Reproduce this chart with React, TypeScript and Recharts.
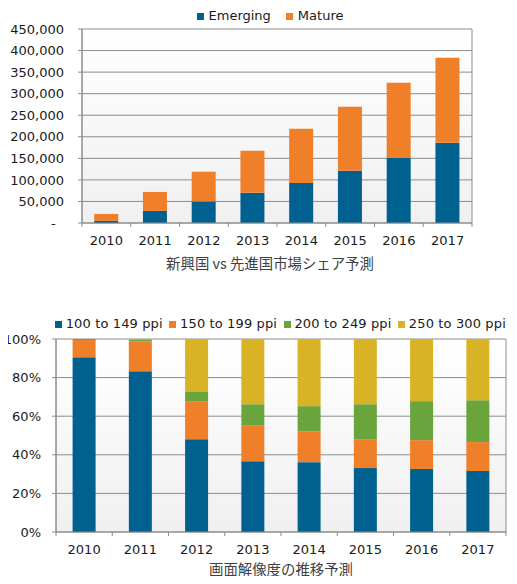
import { BarChart, Bar, XAxis, YAxis, CartesianGrid } from "recharts";

const years = ["2010", "2011", "2012", "2013", "2014", "2015", "2016", "2017"];

// 新興国 vs 先進国
const marketNames = ["Emerging", "Mature"];
const emerging = [5000, 28000, 50000, 70000, 93000, 121000, 151000, 186000];
const mature = [16000, 44000, 69000, 97500, 125500, 148500, 174500, 197500];
const marketTicks = [0, 50000, 100000, 150000, 200000, 250000, 300000, 350000, 400000, 450000];

// 画面解像度 (%)
const ppiNames = ["100 to 149 ppi", "150 to 199 ppi", "200 to 249 ppi", "250 to 300 ppi"];
const ppi100 = [90.5, 83.3, 48.1, 36.7, 36.2, 33.1, 32.6, 31.6];
const ppi150 = [9.0, 15.5, 19.7, 18.6, 16.0, 15.0, 15.0, 15.0];
const ppi200 = [0.5, 0.9, 5.1, 10.9, 13.0, 18.1, 20.2, 21.7];
const ppi250 = [0, 0.3, 27.1, 33.8, 34.8, 33.8, 32.2, 31.7];
const pctTicks = [0, 0.2, 0.4, 0.6, 0.8, 1];

const BLUE = "#00608f";
const ORANGE = "#f07f2a";
const GREEN = "#6aa43d";
const YELLOW = "#d8b325";
const GRID = "#8c8c8c";
const TEXT = "#1a1a1a";

const marketData = years.map((y, i) => ({ year: y, Emerging: emerging[i], Mature: mature[i] }));
const ppiData = years.map((y, i) => ({
  year: y,
  [ppiNames[0]]: ppi100[i],
  [ppiNames[1]]: ppi150[i],
  [ppiNames[2]]: ppi200[i],
  [ppiNames[3]]: ppi250[i],
}));

// x tick with Excel style marks between the categories
function EdgeTick(props: any) {
  const { x, y, payload, index, visibleTicksCount, half } = props;
  const off = payload?.offset ?? half;
  const ay = y - 13;
  return (
    <g>
      <line x1={x - off} x2={x - off} y1={ay} y2={ay + 4} stroke={GRID} />
      {index === visibleTicksCount - 1 && <line x1={x + off} x2={x + off} y1={ay} y2={ay + 4} stroke={GRID} />}
      <text x={x} y={y} dy="0.71em" textAnchor="middle" fill={TEXT} fontSize={13}>
        {payload.value}
      </text>
    </g>
  );
}

function Legend({ items, left, top, gap, itemGap, spacing = 0 }: { items: [string, string][]; left: number; top: number; gap: number; itemGap: number; spacing?: number }) {
  return (
    <div style={{ position: "absolute", left, top, display: "flex", fontSize: 13, lineHeight: "16px", color: TEXT, whiteSpace: "nowrap", letterSpacing: spacing }}>
      {items.map(([name, color]) => (
        <div key={name} style={{ display: "flex", alignItems: "center", marginRight: itemGap }}>
          <span style={{ width: 7, height: 7, background: color, marginRight: gap, display: "inline-block" }} />
          <span>{name}</span>
        </div>
      ))}
    </div>
  );
}

const titleStyle = {
  position: "absolute" as const,
  width: 400,
  textAlign: "center" as const,
  fontSize: 14.4,
  lineHeight: "20px",
  color: "#404040",
  fontFamily: "'Noto Sans CJK JP', sans-serif",
};

export default function App() {
  const edge = (plotW: number) => (p: any) => <EdgeTick {...p} half={plotW / years.length / 2} />;
  const fullEdges = ({ offset }: any) => [offset.left, offset.left + offset.width];

  return (
    <div style={{ position: "relative", width: 517, height: 584, margin: -8, fontFamily: "'DejaVu Sans', Verdana, sans-serif", background: "#fff", overflow: "hidden" }}>
      <Legend items={[[marketNames[0], BLUE], [marketNames[1], ORANGE]]} left={197} top={8} gap={4.5} itemGap={15.5} />
      <div style={{ position: "absolute", left: 0, top: 0 }}>
        <BarChart width={517} height={280} data={marketData} margin={{ top: 29, right: 45, bottom: 27, left: 0 }} barCategoryGap="25%" style={{ fontFamily: "'DejaVu Sans', Verdana, sans-serif" }}>
          <defs>
            <linearGradient id="bgTop" x1="0" y1="0" x2="0" y2="1">
              <stop offset="0%" stopColor="#ffffff" />
              <stop offset="100%" stopColor="#f0f0f0" />
            </linearGradient>
          </defs>
          <CartesianGrid stroke={GRID} fill="url(#bgTop)" fillOpacity={1} verticalCoordinatesGenerator={fullEdges} />
          <XAxis dataKey="year" height={30} tickLine={false} tickSize={4} tickMargin={9} axisLine={{ stroke: GRID }} tick={edge(390)} interval={0} />
          <YAxis
            width={82}
            domain={[0, 450000]}
            ticks={marketTicks}
            tickSize={4}
            tickMargin={14}
            interval={0}
            axisLine={{ stroke: GRID }}
            tickLine={{ stroke: GRID }}
            tick={{ fill: TEXT, fontSize: 13 }}
            tickFormatter={(v: number) => (v === 0 ? "-\u00a0\u00a0" : v.toLocaleString("en-US"))}
          />
          <Bar dataKey="Emerging" stackId="a" fill={BLUE} isAnimationActive={false} />
          <Bar dataKey="Mature" stackId="a" fill={ORANGE} isAnimationActive={false} />
        </BarChart>
      </div>
      <div style={{ ...titleStyle, left: 70, top: 253 }}>新興国 vs 先進国市場シェア予測</div>

      <Legend
        items={[[ppiNames[0], BLUE], [ppiNames[1], ORANGE], [ppiNames[2], GREEN], [ppiNames[3], YELLOW]]}
        left={55}
        top={316}
        gap={3.7}
        itemGap={6.7}
        spacing={0.13}
      />
      <div style={{ position: "absolute", left: 0, top: 300 }}>
        <BarChart width={517} height={280} data={ppiData} stackOffset="expand" margin={{ top: 39, right: 11, bottom: 18, left: 0 }} barCategoryGap="29.5%" style={{ fontFamily: "'DejaVu Sans', Verdana, sans-serif" }}>
          <defs>
            <linearGradient id="bgBottom" x1="0" y1="0" x2="0" y2="1">
              <stop offset="0%" stopColor="#ffffff" />
              <stop offset="100%" stopColor="#f0f0f0" />
            </linearGradient>
          </defs>
          <CartesianGrid stroke={GRID} fill="url(#bgBottom)" fillOpacity={1} verticalCoordinatesGenerator={fullEdges} />
          <XAxis dataKey="year" height={30} tickLine={false} tickSize={4} tickMargin={9} axisLine={{ stroke: GRID }} tick={edge(450)} interval={0} />
          <YAxis
            width={56}
            domain={[0, 1]}
            ticks={pctTicks}
            tickSize={4}
            tickMargin={11}
            interval={0}
            axisLine={{ stroke: GRID }}
            tickLine={{ stroke: GRID }}
            tick={{ fill: TEXT, fontSize: 13 }}
            tickFormatter={(v: number) => `${Math.round(v * 100)}%`}
          />
          <Bar dataKey={ppiNames[0]} stackId="p" fill={BLUE} isAnimationActive={false} />
          <Bar dataKey={ppiNames[1]} stackId="p" fill={ORANGE} isAnimationActive={false} />
          <Bar dataKey={ppiNames[2]} stackId="p" fill={GREEN} isAnimationActive={false} />
          <Bar dataKey={ppiNames[3]} stackId="p" fill={YELLOW} isAnimationActive={false} />
        </BarChart>
      </div>
      <div style={{ ...titleStyle, left: 81, top: 559 }}>画面解像度の推移予測</div>
    </div>
  );
}
